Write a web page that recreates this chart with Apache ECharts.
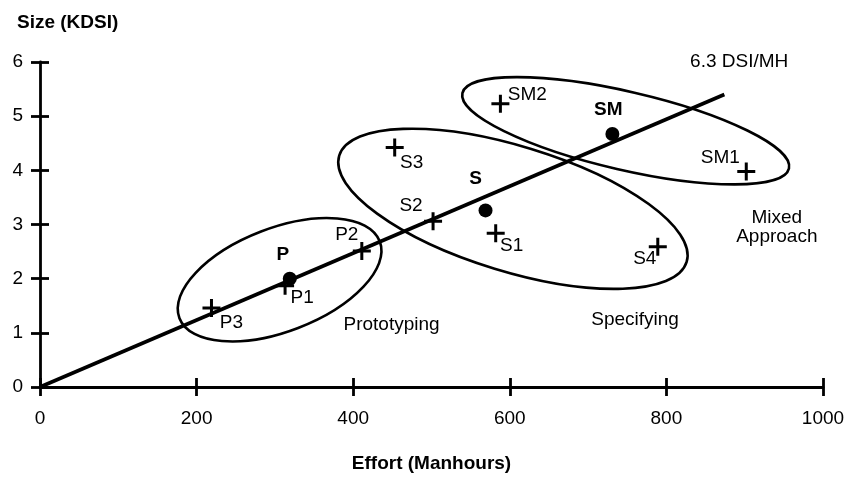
<!DOCTYPE html>
<html>
<head>
<meta charset="utf-8">
<script src="https://cdn.jsdelivr.net/npm/echarts@6/dist/echarts.min.js"></script>
<style>
  html, body { margin: 0; padding: 0; background: #fff; }
  #chart { width: 844px; height: 477px; }
</style>
</head>
<body>
<div id="chart"></div>
<script>
// individual projects (crosses)
const pointNames = ['P1', 'P2', 'P3', 'S1', 'S2', 'S3', 'S4', 'SM1', 'SM2'];
const pointEffort = [313, 411, 219, 582, 502, 453, 789, 902, 588];
const pointSize = [1.87, 2.51, 1.46, 2.84, 3.06, 4.42, 2.59, 3.98, 5.23];

// group means (dots)
const meanNames = ['P', 'S', 'SM'];
const meanEffort = [319, 569, 731];
const meanSize = [2.0, 3.26, 4.67];

// group ellipses: centre, half axes (in effort units), tilt in degrees
const groupNames = ['Prototyping', 'Specifying', 'Mixed Approach'];
const groupCenterEffort = [306, 604, 748];
const groupCenterSize = [1.98, 3.29, 4.73];
const groupMajor = [137, 232, 214];
const groupMinor = [66, 80, 50];
const groupTilt = [21, -17, -13];

// productivity line 6.3 DSI/MH
const trendEffort = [0, 874];
const trendSize = [0, 5.4];

// free text notes
const noteText = ['Prototyping', 'Specifying', 'Mixed\nApproach', '6.3 DSI/MH'];
const noteEffort = [449, 760, 941, 893];
const noteSize = [1.15, 1.24, 2.94, 6.01];

const FONT = 'Liberation Sans, Arial, Helvetica, sans-serif';
const FS = 19;

// label placement around the marks, in pixels
const labelOffset = {
    P1: [17, 12], P2: [-15, -16], P3: [20, 15],
    S1: [16, 13], S2: [-22, -15], S3: [17, 15], S4: [-13, 12],
    SM1: [-26, -14], SM2: [27, -9],
    P: [-7, -24], S: [-10, -32], SM: [-4, -24]
};

const crossPath = 'path://M7.5,0h3v18h-3zM0,7.5h18v3h-18z';

const chart = echarts.init(document.getElementById('chart'));

const tickStyle = { color: '#000', width: 2.8 };

// the inner half of the crossing ticks comes from a hidden twin axis
function twinAxis(pos, min, max, interval) {
    return {
        type: 'value', show: true, position: pos,
        min: min, max: max, interval: interval,
        axisLine: { show: true, onZero: false, lineStyle: { color: '#000', opacity: 0 } },
        axisTick: { show: true, inside: true, length: 9, lineStyle: tickStyle },
        axisLabel: { show: false },
        splitLine: { show: false }
    };
}

const option = {
    animation: false,
    backgroundColor: '#fff',
    title: {
        text: 'Size (KDSI)',
        left: 12,
        top: 8,
        textStyle: { fontFamily: FONT, fontSize: FS, fontWeight: 'bold', color: '#000' }
    },
    grid: { left: 40, right: 21, top: 62, bottom: 90, outerBoundsMode: 'none', containLabel: false },
    xAxis: [
        {
            type: 'value', position: 'bottom',
            min: 0, max: 1000, interval: 200,
            name: 'Effort (Manhours)',
            nameLocation: 'middle',
            nameGap: 67,
            nameTextStyle: { fontFamily: FONT, fontSize: FS, fontWeight: 'bold', color: '#000' },
            axisLine: { show: true, onZero: false, lineStyle: { color: '#000', width: 2.8 } },
            axisTick: { show: true, length: 9, lineStyle: tickStyle },
            splitLine: { show: false },
            axisLabel: { color: '#000', fontFamily: FONT, fontSize: FS, margin: 22, formatter: v => String(v) }
        },
        twinAxis('bottom', 0, 1000, 200)
    ],
    yAxis: [
        {
            type: 'value', position: 'left',
            min: 0, max: 6, interval: 1,
            axisLine: { show: true, onZero: false, lineStyle: { color: '#000', width: 2.8 } },
            axisTick: { show: true, length: 9, lineStyle: tickStyle },
            splitLine: { show: false },
            axisLabel: {
                color: '#000', fontFamily: FONT, fontSize: FS,
                margin: 17, verticalAlign: 'middle', padding: [0, 0, 14, 0]
            }
        },
        twinAxis('left', 0, 6, 1)
    ],
    series: [
        {
            name: 'groups',
            type: 'custom',
            silent: true,
            encode: { x: 0, y: 1 },
            data: groupNames.map((n, i) => ({
                name: n,
                value: [groupCenterEffort[i], groupCenterSize[i], groupMajor[i], groupMinor[i], groupTilt[i]]
            })),
            renderItem: function (params, api) {
                const c = api.coord([api.value(0), api.value(1)]);
                const k = api.size([1, 0])[0];
                return {
                    type: 'ellipse',
                    x: c[0],
                    y: c[1],
                    rotation: api.value(4) * Math.PI / 180,
                    shape: { cx: 0, cy: 0, rx: api.value(2) * k, ry: api.value(3) * k },
                    style: { fill: null, stroke: '#000', lineWidth: 2.6 }
                };
            },
            z: 2
        },
        {
            name: '6.3 DSI/MH',
            type: 'line',
            data: trendEffort.map((x, i) => [x, trendSize[i]]),
            symbol: 'none',
            lineStyle: { color: '#000', width: 3.6 },
            silent: true,
            z: 3
        },
        {
            name: 'projects',
            type: 'scatter',
            symbol: crossPath,
            symbolSize: 18,
            itemStyle: { color: '#000', opacity: 1 },
            data: pointNames.map((n, i) => ({
                name: n,
                value: [pointEffort[i], pointSize[i]],
                label: { offset: labelOffset[n] }
            })),
            label: {
                show: true, position: 'inside', formatter: '{b}',
                color: '#000', fontFamily: FONT, fontSize: FS
            },
            z: 4
        },
        {
            name: 'means',
            type: 'scatter',
            symbol: 'circle',
            symbolSize: 14,
            itemStyle: { color: '#000', opacity: 1 },
            data: meanNames.map((n, i) => ({
                name: n,
                value: [meanEffort[i], meanSize[i]],
                label: { offset: labelOffset[n] }
            })),
            label: {
                show: true, position: 'inside', formatter: '{b}',
                color: '#000', fontFamily: FONT, fontSize: FS, fontWeight: 'bold'
            },
            z: 4
        },
        {
            name: 'notes',
            type: 'scatter',
            symbolSize: 0,
            silent: true,
            itemStyle: { opacity: 1 },
            data: noteText.map((t, i) => ({ name: t, value: [noteEffort[i], noteSize[i]] })),
            label: {
                show: true, position: 'inside', formatter: '{b}',
                color: '#000', fontFamily: FONT, fontSize: FS, lineHeight: 19, align: 'center'
            },
            clip: false,
            z: 4
        }
    ]
};

chart.setOption(option);
</script>
</body>
</html>
